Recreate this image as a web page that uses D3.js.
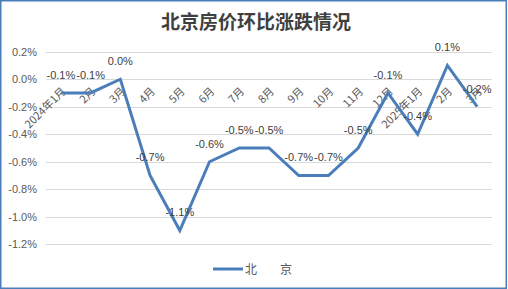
<!DOCTYPE html>
<html>
<head>
<meta charset="utf-8">
<script src="https://d3js.org/d3.v7.min.js"></script>
<style>
  body { margin: 0; background: #fff; }
  svg { display: block; font-family: "Noto Sans CJK SC", "Liberation Sans", sans-serif; }
</style>
</head>
<body>
<svg id="canvas"></svg>
<script>
"use strict";

// Chart data
const months = ["2024年1月", "2月", "3月", "4月", "5月", "6月", "7月", "8月", "9月", "10月", "11月", "12月", "2025年1月", "2月", "3月"];
const beijingValues = [-0.1, -0.1, 0.0, -0.7, -1.1, -0.6, -0.5, -0.5, -0.7, -0.7, -0.5, -0.1, -0.4, 0.1, -0.2];
const yTicks = [0.2, 0.0, -0.2, -0.4, -0.6, -0.8, -1.0, -1.2];
const seriesName = "北　京";
const chartTitle = "北京房价环比涨跌情况";

const canvasWidth = 508;
const canvasHeight = 289;
const lineColor = "#4a7ebb";

const chart = {
    marginLeft: 46,
    marginRight: 16,
    yTop: 51.7,
    yBottom: 244.3
};

const canvas = d3.select("#canvas")
    .attr("width", canvasWidth)
    .attr("height", canvasHeight);

// Outer border
canvas.append("rect")
    .attr("x", 0.75)
    .attr("y", 0.75)
    .attr("width", canvasWidth - 2.5)
    .attr("height", canvasHeight - 1.5)
    .attr("fill", "#fff")
    .attr("stroke", lineColor)
    .attr("stroke-width", 1.5);

// Title
canvas.append("text")
    .text(chartTitle)
    .attr("x", 256)
    .attr("y", 29)
    .attr("text-anchor", "middle")
    .attr("font-size", "19px")
    .attr("font-weight", "bold")
    .attr("fill", "#404040");

// Scales
const x = d3.scaleBand()
    .domain(months.map((d, i) => i))
    .range([chart.marginLeft, canvasWidth - chart.marginRight]);

const y = d3.scaleLinear()
    .domain([-1.2, 0.2])
    .range([chart.yBottom, chart.yTop]);

const cx = i => x(i) + x.bandwidth() / 2;

// Gridlines
canvas.append("g")
    .selectAll("line")
    .data(yTicks)
    .join("line")
    .attr("x1", chart.marginLeft)
    .attr("x2", canvasWidth - chart.marginRight)
    .attr("y1", d => Math.round(y(d)) + 0.5)
    .attr("y2", d => Math.round(y(d)) + 0.5)
    .attr("stroke", "#d9d9d9")
    .attr("stroke-width", 1);

// Y axis labels
canvas.append("g")
    .selectAll("text")
    .data(yTicks)
    .join("text")
    .text(d => d.toFixed(1) + "%")
    .attr("x", 37)
    .attr("y", d => y(d))
    .attr("dy", "0.35em")
    .attr("text-anchor", "end")
    .attr("font-size", "11px")
    .attr("font-family", "Liberation Sans, sans-serif")
    .attr("fill", "#595959");

// X axis labels, rotated, sitting below the zero line
canvas.append("g")
    .selectAll("text")
    .data(months)
    .join("text")
    .text(d => d)
    .attr("text-anchor", "end")
    .attr("font-size", "11px")
    .attr("fill", "#595959")
    .attr("transform", (d, i) => `translate(${cx(i) + 3},${y(0) + 10}) rotate(-45)`)
    .attr("dy", "0.35em");

// Line
canvas.append("path")
    .datum(beijingValues)
    .attr("fill", "none")
    .attr("stroke", lineColor)
    .attr("stroke-width", 3)
    .attr("stroke-linejoin", "miter")
    .attr("d", d3.line()
        .x((d, i) => cx(i))
        .y(d => y(d)));

// Data labels
canvas.append("g")
    .selectAll("text")
    .data(beijingValues)
    .join("text")
    .text(d => d.toFixed(1) + "%")
    .attr("x", (d, i) => cx(i))
    .attr("y", d => y(d) - 18)
    .attr("dy", "0.35em")
    .attr("text-anchor", "middle")
    .attr("font-size", "11px")
    .attr("font-family", "Liberation Sans, sans-serif")
    .attr("fill", "#404040");

// Legend
const legend = canvas.append("g");
legend.append("line")
    .attr("x1", 213)
    .attr("x2", 243)
    .attr("y1", 269)
    .attr("y2", 269)
    .attr("stroke", lineColor)
    .attr("stroke-width", 3);
legend.append("text")
    .text(seriesName)
    .attr("x", 245)
    .attr("y", 269)
    .attr("dy", "0.38em")
    .attr("font-size", "12px")
    .attr("letter-spacing", "5.5px")
    .attr("fill", "#595959");
</script>
</body>
</html>
